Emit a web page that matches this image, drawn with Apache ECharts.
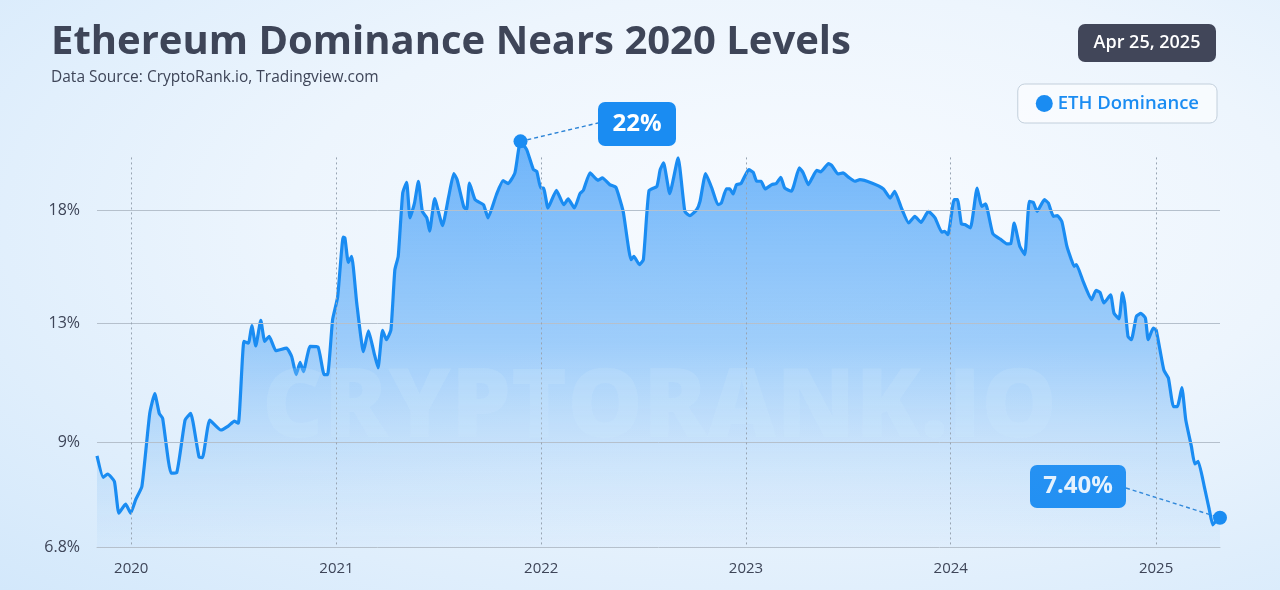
<!DOCTYPE html>
<html>
<head>
<meta charset="utf-8">
<title>Ethereum Dominance</title>
<script src="https://cdn.jsdelivr.net/npm/echarts@6/dist/echarts.min.js"></script>
<style>
  html, body { margin: 0; padding: 0; }
  #main {
    width: 1280px;
    height: 590px;
    background: radial-gradient(ellipse at 62% 38%, #f8fbff 0%, #edf5fd 45%, #d3e8fb 100%);
  }
</style>
</head>
<body>
<div id="main"></div>
<script>
// ETH dominance, % of total crypto market cap
const dates = [
  "2019-11-01", "2019-11-12", "2019-11-20", "2019-12-02", "2019-12-10", "2019-12-22", "2019-12-31",
  "2020-01-09", "2020-01-20", "2020-02-03", "2020-02-12", "2020-02-20", "2020-02-26", "2020-03-12",
  "2020-03-22", "2020-04-06", "2020-04-16", "2020-05-01", "2020-05-07", "2020-05-20", "2020-06-09",
  "2020-06-22", "2020-07-03", "2020-07-10", "2020-07-20", "2020-07-28", "2020-08-03", "2020-08-10",
  "2020-08-19", "2020-08-26", "2020-09-03", "2020-09-15", "2020-10-04", "2020-10-13", "2020-10-21",
  "2020-10-28", "2020-11-03", "2020-11-15", "2020-11-29", "2020-12-10", "2020-12-16", "2020-12-25",
  "2021-01-03", "2021-01-13", "2021-01-16", "2021-01-22", "2021-01-28", "2021-02-06", "2021-02-18",
  "2021-02-27", "2021-03-09", "2021-03-16", "2021-03-24", "2021-03-31", "2021-04-08", "2021-04-15",
  "2021-04-21", "2021-04-29", "2021-05-06", "2021-05-12", "2021-05-20", "2021-05-27", "2021-06-03",
  "2021-06-11", "2021-06-16", "2021-06-25", "2021-07-09", "2021-07-20", "2021-07-29", "2021-08-04",
  "2021-08-16", "2021-08-21", "2021-08-26", "2021-09-05", "2021-09-20", "2021-09-28", "2021-10-13",
  "2021-10-25", "2021-11-03", "2021-11-15", "2021-11-25", "2021-12-06", "2021-12-18", "2021-12-24",
  "2021-12-31", "2022-01-05", "2022-01-13", "2022-01-28", "2022-02-10", "2022-02-18", "2022-03-01",
  "2022-03-11", "2022-03-17", "2022-03-29", "2022-04-12", "2022-04-20", "2022-05-03", "2022-05-14",
  "2022-05-27", "2022-06-10", "2022-06-15", "2022-06-25", "2022-07-02", "2022-07-12", "2022-07-26",
  "2022-08-01", "2022-08-07", "2022-08-18", "2022-09-02", "2022-09-14", "2022-09-23", "2022-10-05",
  "2022-10-11", "2022-10-21", "2022-11-01", "2022-11-12", "2022-11-18", "2022-11-27", "2022-12-03",
  "2022-12-09", "2022-12-15", "2022-12-23", "2023-01-06", "2023-01-14", "2023-01-20", "2023-01-28",
  "2023-02-04", "2023-02-16", "2023-02-24", "2023-03-04", "2023-03-11", "2023-03-23", "2023-04-06",
  "2023-04-13", "2023-04-22", "2023-04-29", "2023-05-07", "2023-05-14", "2023-05-28", "2023-06-03",
  "2023-06-14", "2023-06-23", "2023-07-02", "2023-07-14", "2023-07-23", "2023-08-13", "2023-09-03",
  "2023-09-15", "2023-09-23", "2023-10-05", "2023-10-18", "2023-10-29", "2023-11-09", "2023-11-22",
  "2023-12-04", "2023-12-16", "2023-12-21", "2023-12-27", "2024-01-07", "2024-01-13", "2024-01-20",
  "2024-01-26", "2024-02-05", "2024-02-17", "2024-02-25", "2024-03-03", "2024-03-16", "2024-03-29",
  "2024-04-10", "2024-04-17", "2024-04-23", "2024-05-03", "2024-05-12", "2024-05-20", "2024-05-27",
  "2024-06-03", "2024-06-16", "2024-06-23", "2024-07-02", "2024-07-09", "2024-07-17", "2024-07-26",
  "2024-08-03", "2024-08-08", "2024-08-12", "2024-08-24", "2024-09-08", "2024-09-16", "2024-09-23",
  "2024-09-30", "2024-10-12", "2024-10-18", "2024-10-27", "2024-11-02", "2024-11-06", "2024-11-12",
  "2024-11-18", "2024-11-27", "2024-12-05", "2024-12-13", "2024-12-18", "2024-12-27", "2025-01-01",
  "2025-01-08", "2025-01-15", "2025-01-23", "2025-02-01", "2025-02-08", "2025-02-16", "2025-02-23",
  "2025-03-05", "2025-03-11", "2025-03-17", "2025-03-28", "2025-04-06", "2025-04-12", "2025-04-18",
  "2025-04-25"
];
const dominance = [
  8.85, 8.32, 8.40, 8.22, 7.50, 7.70, 7.50,
  7.80, 8.10, 10.01, 10.60, 10.01, 9.87, 8.42,
  8.43, 9.82, 10.01, 8.82, 8.81, 9.82, 9.54,
  9.65, 9.79, 9.73, 12.33, 12.27, 12.91, 12.17,
  13.10, 12.33, 12.51, 12.00, 12.09, 11.80, 11.20,
  11.60, 11.30, 12.15, 12.13, 11.20, 11.20, 13.13,
  14.02, 16.68, 16.63, 15.50, 15.77, 13.78, 11.97,
  12.71, 11.92, 11.42, 12.73, 12.39, 12.75, 15.17,
  15.77, 18.95, 19.54, 17.63, 18.40, 19.60, 17.96,
  17.63, 16.96, 18.64, 17.24, 18.76, 20.04, 19.69,
  18.19, 18.05, 19.50, 18.58, 18.31, 17.63, 18.85,
  19.63, 19.47, 20.08, 22.00, 21.48, 20.27, 20.17,
  19.22, 19.22, 18.14, 19.09, 18.31, 18.62, 18.14,
  18.91, 19.09, 20.08, 19.65, 19.79, 19.41, 19.26,
  17.96, 15.62, 15.77, 15.40, 15.62, 19.07, 19.31,
  20.27, 20.67, 18.91, 20.97, 17.96, 17.74, 18.05,
  18.49, 20.04, 19.22, 18.31, 18.40, 19.17, 19.17,
  18.89, 19.41, 19.47, 20.27, 20.11, 19.60, 19.60,
  19.17, 19.41, 19.47, 19.82, 19.22, 19.04, 20.37,
  20.08, 19.41, 19.79, 20.23, 20.14, 20.63, 20.51,
  20.02, 20.08, 19.85, 19.60, 19.69, 19.50, 19.17,
  18.67, 19.04, 18.14, 17.37, 17.71, 17.40, 17.96,
  17.63, 16.91, 16.96, 16.79, 18.58, 18.58, 17.32,
  17.29, 17.12, 19.22, 18.22, 18.36, 16.84, 16.58,
  16.35, 16.36, 17.37, 16.24, 15.85, 18.49, 18.44,
  17.96, 18.58, 18.40, 17.71, 17.74, 17.45, 16.24,
  15.62, 15.32, 15.40, 14.67, 13.91, 14.29, 14.21,
  13.78, 14.11, 13.38, 13.16, 14.19, 13.78, 12.51,
  12.39, 13.26, 13.37, 13.19, 12.39, 12.81, 12.75,
  12.03, 11.34, 11.09, 10.21, 10.21, 10.79, 9.82,
  9.10, 8.65, 8.71, 8.10, 7.57, 7.25, 7.33,
  7.40
];

// y axis is logarithmic; gridlines as drawn on the original
const yTickValues = [6.8, 9.2, 13, 18];
const yTickLabels = ["6.8%", "9%", "13%", "18%"];
const yearTicks = ["2020-01-01", "2021-01-01", "2022-01-01", "2023-01-01", "2024-01-01", "2025-01-01"];
const yearLabels = ["2020", "2021", "2022", "2023", "2024", "2025"];
const dateMin = "2019-11-01";
const dateMax = "2025-04-25";

const textColor = "#3e4558";
const blue = "#1a8cf2";
const font = "'Open Sans', 'Noto Sans', sans-serif";

function parseDay(s) {
  const p = s.split("-");
  return new Date(+p[0], +p[1] - 1, +p[2]).getTime();
}

const yearStamps = yearTicks.map(parseDay);
const seriesData = dates.map((d, i) => [parseDay(d), dominance[i]]);

var myChart = echarts.init(document.getElementById("main"), null, { renderer: "canvas" });

const gridLines = yTickValues.slice(1).map(v => ({
  yAxis: v,
  lineStyle: { color: "#b5c0cc", width: 1, type: "solid" }
}));
const yearLines = yearStamps.map(t => [
  { coord: [t, 21], lineStyle: { color: "#98a4b2", width: 1, type: [2, 3] } },
  { coord: [t, 6.8] }
]);

myChart.setOption({
  animation: false,
  title: {
    text: "Ethereum Dominance Nears 2020 Levels",
    subtext: "Data Source: CryptoRank.io, Tradingview.com",
    left: 46,
    top: 18,
    itemGap: 7,
    textStyle: { color: textColor, fontSize: 40, fontWeight: 700, fontFamily: font },
    subtextStyle: { color: textColor, fontSize: 15.5, fontFamily: font }
  },
  legend: {
    data: ["ETH Dominance"],
    right: 63,
    top: 84,
    icon: "circle",
    itemWidth: 17,
    itemHeight: 17,
    itemGap: 8,
    padding: [10, 18, 10, 18],
    backgroundColor: "rgba(255,255,255,0.55)",
    borderColor: "#c2cfdb",
    borderWidth: 1,
    borderRadius: 7,
    textStyle: { color: blue, fontSize: 18.5, fontWeight: 600, fontFamily: font }
  },
  grid: { left: 97, right: 60, top: 129, bottom: 43 },
  xAxis: {
    type: "value",
    min: parseDay(dateMin),
    max: parseDay(dateMax),
    axisLine: { show: true, lineStyle: { color: "#b5c0cc" } },
    axisTick: { show: false },
    splitLine: { show: false },
    axisLabel: {
      customValues: yearStamps,
      formatter: v => yearLabels[yearStamps.indexOf(v)] || "",
      color: textColor,
      fontSize: 15,
      fontFamily: font,
      margin: 14
    }
  },
  yAxis: {
    type: "log",
    logBase: 10,
    min: 6.8,
    max: 22.8,
    axisLine: { show: false },
    axisTick: { show: false },
    splitLine: { show: false },
    axisLabel: {
      customValues: yTickValues,
      formatter: v => {
        const i = yTickValues.findIndex(t => Math.abs(t - v) < 0.01);
        return i >= 0 ? yTickLabels[i] : "";
      },
      color: textColor,
      fontSize: 16,
      fontFamily: font,
      margin: 17
    }
  },
  series: [
    {
      name: "ETH Dominance",
      type: "line",
      data: seriesData,
      showSymbol: false,
      smooth: 0.15,
      color: blue,
      lineStyle: { color: blue, width: 3.2 },
      areaStyle: {
        color: new echarts.graphic.LinearGradient(0, 0, 0, 1, [
          { offset: 0, color: "rgba(28,138,246,0.88)" },
          { offset: 0.5, color: "rgba(45,148,246,0.6)" },
          { offset: 1, color: "rgba(110,180,246,0.06)" }
        ])
      },
      markLine: {
        silent: true,
        symbol: ["none", "none"],
        label: { show: false },
        data: gridLines.concat(yearLines)
      }
    }
  ]
});

// annotations: peak and latest value
let peakIdx = 0;
dominance.forEach((v, i) => { if (v > dominance[peakIdx]) peakIdx = i; });
const lastIdx = dominance.length - 1;
const peakPt = myChart.convertToPixel({ seriesIndex: 0 }, seriesData[peakIdx]);
const lastPt = myChart.convertToPixel({ seriesIndex: 0 }, seriesData[lastIdx]);

function badge(x, y, w, h, text, fill, size, weight) {
  return {
    type: "group",
    children: [
      { type: "rect", shape: { x: x, y: y, width: w, height: h, r: 7 }, style: { fill: fill } },
      {
        type: "text",
        x: x + w / 2,
        y: y + h / 2,
        style: {
          text: text, fill: "#fff", font: weight + " " + size + "px " + font,
          textAlign: "center", textVerticalAlign: "middle"
        }
      }
    ]
  };
}
function connector(x1, y1, x2, y2) {
  return {
    type: "line",
    shape: { x1: x1, y1: y1, x2: x2, y2: y2 },
    style: { stroke: "#2b83d6", lineWidth: 1.4, lineDash: [4, 3] }
  };
}
function dot(p) {
  return { type: "circle", shape: { cx: p[0], cy: p[1], r: 7 }, style: { fill: blue }, z: 20 };
}

myChart.setOption({
  graphic: [
    {
      type: "text",
      left: 262,
      top: 362,
      z: 10,
      style: {
        text: "CRYPTORANK.IO",
        font: "800 95px " + font,
        fill: "rgba(205,230,252,0.22)"
      }
    },
    badge(1078, 24, 138, 38, "Apr 25, 2025", "#414659", 18, 600),
    connector(peakPt[0], peakPt[1], 598, 123),
    badge(598, 102, 78, 44, Math.round(dominance[peakIdx]) + "%", blue, 24, 700),
    dot(peakPt),
    connector(1126, 488, lastPt[0], lastPt[1]),
    badge(1030, 465, 96, 43, dominance[lastIdx].toFixed(2) + "%", blue, 24, 700),
    dot(lastPt)
  ]
});
</script>
</body>
</html>
